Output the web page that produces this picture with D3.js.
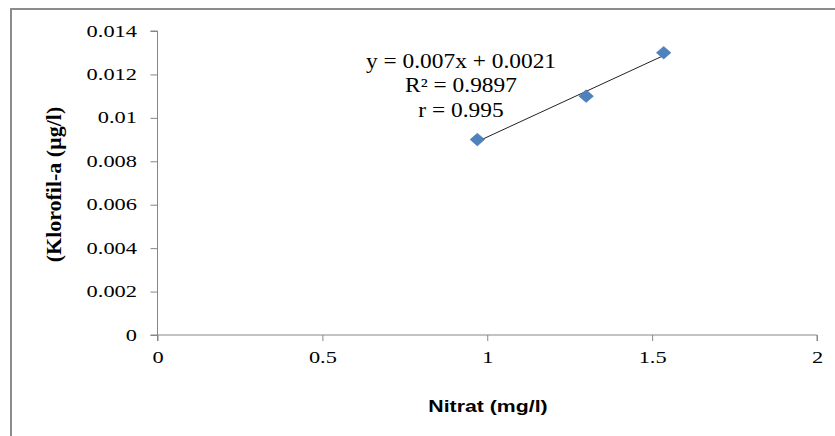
<!DOCTYPE html>
<html>
<head>
<meta charset="utf-8">
<script src="https://cdn.jsdelivr.net/npm/d3@7"></script>
<style>
  body { margin: 0; background: #fff; }
  svg { display: block; }
</style>
</head>
<body>
<div id="chart"></div>
<script>
var width = 835;
var height = 436;

// data
var nitrat = [0.97, 1.30, 1.535];
var klorofil = [0.009, 0.011, 0.013];
var xTicks = [0, 0.5, 1, 1.5, 2];
var yTicks = [0, 0.002, 0.004, 0.006, 0.008, 0.01, 0.012, 0.014];
var eqLines = ["y = 0.007x + 0.0021", "R\u00b2 = 0.9897", "r = 0.995"];

// the picture is stretched sideways, text is widened to match
var stretch = 1.4;
var serif = "'Liberation Serif', 'Times New Roman', serif";

var svg = d3.select("#chart")
  .append("svg")
  .attr("width", width)
  .attr("height", height);

// outer frame
svg.append("rect")
  .attr("x", 11)
  .attr("y", 9)
  .attr("width", 840)
  .attr("height", 440)
  .attr("fill", "none")
  .attr("stroke", "#8c8c8c")
  .attr("stroke-width", 2);

var xScale = d3.scaleLinear().domain([0, 2]).range([157.5, 817]);
var yScale = d3.scaleLinear().domain([0, 0.014]).range([335, 31]);

// x axis
var xAxis = svg.append("g")
  .attr("transform", "translate(0," + yScale(0) + ")")
  .call(d3.axisBottom(xScale).tickValues(xTicks).tickSize(6).tickPadding(11)
    .tickFormat(function(d) { return d; }))
  .attr("font-family", serif)
  .attr("font-size", 16);
xAxis.selectAll("path, line").attr("stroke", "#868686");
xAxis.select(".domain").attr("d", "M" + (xScale(0) - 7) + ",0H" + xScale(2) + "V6");
xAxis.selectAll("text")
  .attr("fill", "#000")
  .attr("transform", "scale(" + stretch + ",1)");

// y axis
var yAxis = svg.append("g")
  .attr("transform", "translate(" + xScale(0) + ",0)")
  .call(d3.axisLeft(yScale).tickValues(yTicks).tickSize(7)
    .tickFormat(function(d) { return d; }))
  .attr("font-family", serif)
  .attr("font-size", 16);
yAxis.selectAll("path, line").attr("stroke", "#868686");
yAxis.select(".domain").attr("d", "M-7," + yScale(0.014) + "H0V" + (yScale(0) + 6));
yAxis.selectAll("text")
  .attr("fill", "#000")
  .attr("x", -20.5 / stretch)
  .attr("transform", "scale(" + stretch + ",1)");

// axis titles
svg.append("text")
  .attr("transform", "translate(61,184.5) scale(1.2,1.22) rotate(-90)")
  .attr("text-anchor", "middle")
  .attr("font-family", serif)
  .attr("font-size", 18)
  .attr("font-weight", "bold")
  .text("(Klorofil-a (\u00b5g/l)");

svg.append("text")
  .attr("transform", "translate(488,412) scale(1.33,1)")
  .attr("text-anchor", "middle")
  .attr("font-family", "'Liberation Sans', Arial, sans-serif")
  .attr("font-size", 16)
  .attr("font-weight", "bold")
  .text("Nitrat (mg/l)");

// linear trendline from least squares
var mx = d3.mean(nitrat), my = d3.mean(klorofil);
var sxy = d3.sum(nitrat, function(x, i) { return (x - mx) * (klorofil[i] - my); });
var sxx = d3.sum(nitrat, function(x) { return (x - mx) * (x - mx); });
var slope = sxy / sxx, intercept = my - slope * mx;
var xr = d3.extent(nitrat);

svg.append("line")
  .attr("x1", xScale(xr[0]))
  .attr("y1", yScale(slope * xr[0] + intercept))
  .attr("x2", xScale(xr[1]))
  .attr("y2", yScale(slope * xr[1] + intercept))
  .attr("stroke", "#222")
  .attr("stroke-width", 1);

// diamond markers
svg.selectAll(".pt")
  .data(nitrat)
  .enter().append("path")
  .attr("class", "pt")
  .attr("d", d3.symbol().type(d3.symbolSquare).size(80))
  .attr("transform", function(d, i) {
    return "translate(" + xScale(d) + "," + yScale(klorofil[i]) + ") scale(1.15,1) rotate(45)";
  })
  .attr("fill", "#4f81bd")
  .attr("stroke", "#4a7ab5")
  .attr("stroke-width", 0.5);

// equation label
svg.append("g")
  .attr("transform", "translate(461,0) scale(1.17,1)")
  .append("text")
  .attr("text-anchor", "middle")
  .attr("font-family", serif)
  .attr("font-size", 20)
  .selectAll("tspan")
  .data(eqLines)
  .enter().append("tspan")
  .attr("x", 0)
  .attr("y", function(d, i) { return 68 + i * 24.5; })
  .text(function(d) { return d; });
</script>
</body>
</html>
